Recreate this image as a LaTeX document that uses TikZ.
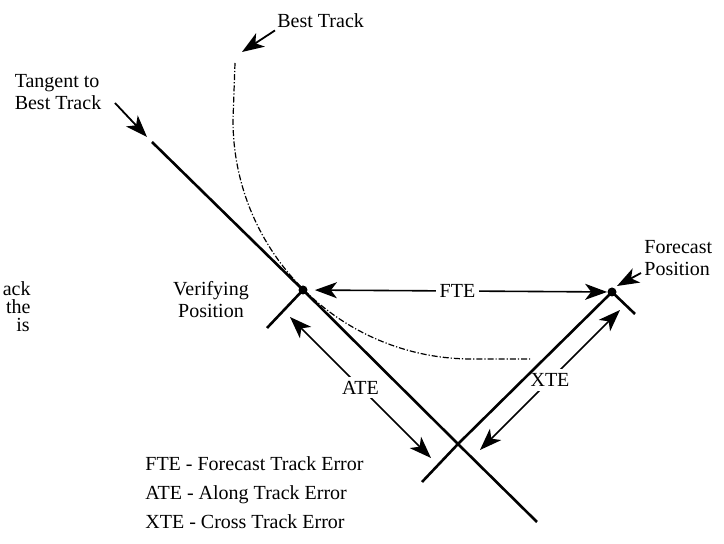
\documentclass[tikz,border=0pt]{standalone}
\usepackage{fontspec}
\setmainfont{Liberation Serif}
\usetikzlibrary{positioning, arrows.meta}

\begin{document}
\begin{tikzpicture}[
    x=0.5pt, y=-0.5pt,      % 1 unit = 1 px of the original, y downward
    >={Stealth[length=11pt, width=8pt, inset=3pt]},
    font=\fontsize{10}{11}\selectfont,
    % dots for the two positions
    pos_dot/.style={circle, fill=black, inner sep=0pt, minimum size=4.5pt},
    track_line/.style={line width=1.3pt},
    err_arrow/.style={<->, line width=0.8pt},
    err_label/.style={fill=white, inner sep=2pt},
    lbl_arrow/.style={->, line width=0.9pt},
    txt/.style={inner sep=1pt},
    best_track/.style={line width=0.6pt, dash pattern=on 3pt off 1pt on 0.6pt off 1pt}
]
    \useasboundingbox (0,0) rectangle (724,544);

    % --- 1. positions ---
    \node [pos_dot] (verif) at (303,290) {};
    \node [pos_dot] (fcst) at (612,292) {};
    \coordinate (cross) at (458,444);

    % --- 2. best track (arc, tangent at the verifying position) ---
    \draw [best_track] (235,63) -- (233,120)
        arc [start angle=180, end angle=90, radius=239] -- (530,359);

    % --- 3. error arrows ---
    \draw [err_arrow, shorten <=3.5pt] (verif) -- node [err_label] {FTE} (fcst);

    \coordinate (ate_a) at (290,317);
    \coordinate (ate_b) at (431,458);
    \draw [err_arrow] (ate_a) -- node [err_label] {ATE} (ate_b);

    \coordinate (xte_a) at (620,310);
    \coordinate (xte_b) at (480,450);
    \draw [err_arrow] (xte_a) -- node [err_label] {XTE} (xte_b);

    % --- 4. tangent line and cross line ---
    \coordinate (tan_start) at (152,142);
    \coordinate (tan_end) at (537,522);
    \draw [track_line] (tan_start) -- (verif.center) -- (cross) -- (tan_end);

    \coordinate (perp_end) at (422,482);
    \draw [track_line] (perp_end) -- (cross) -- (fcst.center);

    % short ticks at the two positions
    \coordinate (verif_tick) at (267,328);
    \coordinate (fcst_tick) at (635,314);
    \draw [track_line] (verif.center) -- (verif_tick);
    \draw [track_line] (fcst.center) -- (fcst_tick);

    % --- 5. labels with pointers ---
    \node [txt, anchor=west] (best_lbl) at (275,21) {Best Track};
    \coordinate (best_tip) at (242,52);
    \draw [lbl_arrow] (best_lbl.south west) -- (best_tip);

    \node [txt, align=left] (tan_lbl) at (58,92) {Tangent to\\Best Track};
    \coordinate (tan_tail) at (115,103);
    \coordinate (tan_tip) at (147,137);
    \draw [lbl_arrow] (tan_tail) -- (tan_tip);

    \node [txt, align=left, anchor=west] (fcst_lbl) at (642,258) {Forecast\\Position};
    \coordinate (fcst_tail) at (641,273);
    \coordinate (fcst_tip) at (617,286);
    \draw [lbl_arrow] (fcst_tail) -- (fcst_tip);

    \node [txt, align=center] (verif_lbl) at (211,300) {Verifying\\Position};

    % cut-off words of the page text
    \node [inner sep=0pt, anchor=base east] (frag1) at (31,296) {ack};
    \node [inner sep=0pt, anchor=base east] (frag2) at (31,314) {the};
    \node [inner sep=0pt, anchor=base east] (frag3) at (30,332) {is};

    % --- 6. legend ---
    \node [txt, anchor=base west] (leg_fte) at (143,471) {FTE - Forecast Track Error};
    \node [txt, anchor=base west] (leg_ate) at (143,500) {ATE - Along Track Error};
    \node [txt, anchor=base west] (leg_xte) at (143,529) {XTE - Cross Track Error};

\end{tikzpicture}
\end{document}
